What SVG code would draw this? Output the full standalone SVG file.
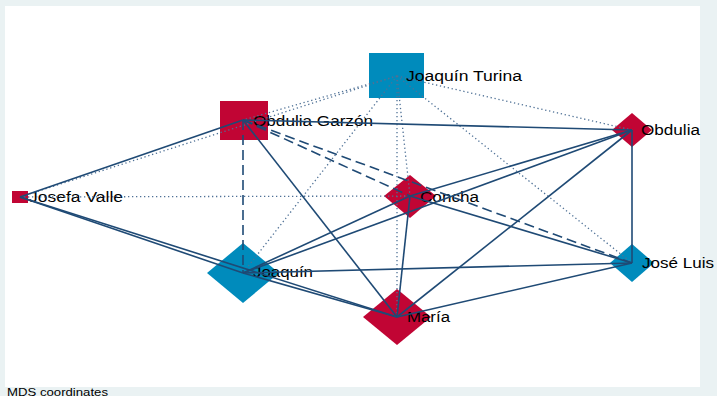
<svg xmlns="http://www.w3.org/2000/svg" width="717" height="396" viewBox="0 0 717 396">
  <style>
    .bg { fill: #eaf2f3; }
    .plot { fill: #ffffff; }
    .red { fill: #c10534; }
    .blue { fill: #008bbc; }
    .lbl { font-family: "Liberation Sans", Arial, sans-serif; font-size: 15.5px; fill: #000000; }
    .note { font-family: "Liberation Sans", Arial, sans-serif; font-size: 11px; fill: #000000; }
    .solid { stroke: #1f4a75; stroke-width: 1.6; fill: none; }
    .dash { stroke: #1f4a75; stroke-width: 1.6; fill: none; stroke-dasharray: 10 5; }
    .dot { stroke: #4f7196; stroke-width: 1.3; fill: none; stroke-dasharray: 1.3 2.7; }
  </style>

  <rect class="bg" x="0" y="0" width="717" height="396"/>
  <rect class="plot" x="5" y="6" width="695" height="381"/>

  <g id="nodes">
    <g id="joaquin-turina">
      <rect class="blue" x="369" y="53" width="55" height="45"/>
      <text class="lbl" x="406" y="81" textLength="116" lengthAdjust="spacingAndGlyphs">Joaquín Turina</text>
    </g>
    <g id="obdulia-garzon">
      <rect class="red" x="220" y="101" width="48" height="39"/>
      <text class="lbl" x="253" y="126" textLength="120" lengthAdjust="spacingAndGlyphs">Obdulia Garzón</text>
    </g>
    <g id="josefa-valle">
      <rect class="red" x="12" y="191" width="16" height="12"/>
      <text class="lbl" x="29" y="202" textLength="94" lengthAdjust="spacingAndGlyphs">Josefa Valle</text>
    </g>
    <g id="concha">
      <polygon class="red" points="410,175 436,196 410,218 384,196"/>
      <text class="lbl" x="420" y="202" textLength="59" lengthAdjust="spacingAndGlyphs">Concha</text>
    </g>
    <g id="obdulia">
      <polygon class="red" points="632,113 652,130 632,147 612,130"/>
      <text class="lbl" x="641" y="135" textLength="59" lengthAdjust="spacingAndGlyphs">Obdulia</text>
    </g>
    <g id="jose-luis">
      <polygon class="blue" points="632,244 654,263 632,282 610,263"/>
      <text class="lbl" x="642" y="268" textLength="72" lengthAdjust="spacingAndGlyphs">José Luis</text>
    </g>
    <g id="joaquin">
      <polygon class="blue" points="243,243 279,273 243,303 207,273"/>
      <text class="lbl" x="253" y="277" textLength="60" lengthAdjust="spacingAndGlyphs">Joaquín</text>
    </g>
    <g id="maria">
      <polygon class="red" points="397,289 431,317 397,345 363,317"/>
      <text class="lbl" x="407" y="322" textLength="43" lengthAdjust="spacingAndGlyphs">María</text>
    </g>
  </g>

  <g id="connectors">
    <!-- weak ties -->
    <line class="dot" x1="397" y1="76" x2="243" y2="120"/>
    <line class="dot" x1="397" y1="76" x2="20" y2="197"/>
    <line class="dot" x1="397" y1="76" x2="632" y2="130"/>
    <line class="dot" x1="397" y1="76" x2="410" y2="196"/>
    <line class="dot" x1="397" y1="76" x2="397" y2="317"/>
    <line class="dot" x1="397" y1="76" x2="243" y2="273"/>
    <line class="dot" x1="397" y1="76" x2="632" y2="263"/>
    <line class="dot" x1="20" y1="197" x2="410" y2="196"/>
    <!-- medium ties -->
    <line class="dash" x1="243" y1="120" x2="410" y2="196"/>
    <line class="dash" x1="243" y1="120" x2="632" y2="263"/>
    <line class="dash" x1="243" y1="120" x2="243" y2="273"/>
    <!-- strong ties -->
    <line class="solid" x1="243" y1="120" x2="632" y2="130"/>
    <line class="solid" x1="243" y1="120" x2="20" y2="197"/>
    <line class="solid" x1="243" y1="120" x2="397" y2="317"/>
    <line class="solid" x1="20" y1="197" x2="243" y2="273"/>
    <line class="solid" x1="20" y1="197" x2="397" y2="317"/>
    <line class="solid" x1="243" y1="273" x2="410" y2="196"/>
    <line class="solid" x1="243" y1="273" x2="632" y2="130"/>
    <line class="solid" x1="243" y1="273" x2="632" y2="263"/>
    <line class="solid" x1="243" y1="273" x2="397" y2="317"/>
    <line class="solid" x1="410" y1="196" x2="632" y2="130"/>
    <line class="solid" x1="410" y1="196" x2="632" y2="263"/>
    <line class="solid" x1="410" y1="196" x2="397" y2="317"/>
    <line class="solid" x1="397" y1="317" x2="632" y2="130"/>
    <line class="solid" x1="397" y1="317" x2="632" y2="263"/>
    <line class="solid" x1="632" y1="130" x2="632" y2="263"/>
  </g>

  <text class="note" x="7" y="395.5" textLength="101" lengthAdjust="spacingAndGlyphs">MDS coordinates</text>
</svg>
